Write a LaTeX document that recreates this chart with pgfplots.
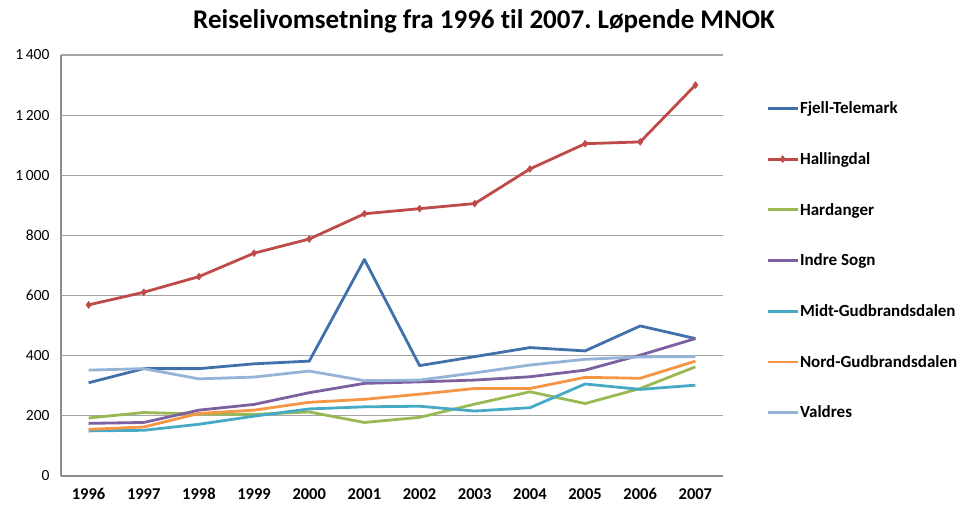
\documentclass[border=0pt]{standalone}
\usepackage{pgfplots}
\pgfplotsset{compat=1.18}
\usepackage{fontspec}
\setmainfont{Carlito}[Ligatures={NoCommon}]
\frenchspacing
\definecolor{cFT}{HTML}{4170AA}
\definecolor{cHA}{HTML}{BE4B48}
\definecolor{cHD}{HTML}{98B954}
\definecolor{cIS}{HTML}{7D60A0}
\definecolor{cMG}{HTML}{46AAC5}
\definecolor{cNG}{HTML}{F59647}
\definecolor{cVA}{HTML}{95B3D7}
\definecolor{gridc}{HTML}{A6A6A6}
\begin{document}
\begin{tikzpicture}[x=1pt,y=1pt]
\useasboundingbox (0,0) rectangle (957,510);
\node[font=\fontsize{27}{30}\selectfont\bfseries] at (484,489) {Reiselivomsetning fra 1996 til 2007. Løpende MNOK};
\begin{axis}[
  at={(61pt,34pt)}, anchor=south west,
  scale only axis, width=662pt, height=421pt,
  xmin=1995.5, xmax=2007.5, ymin=0, ymax=1400,
  xtick={1996,...,2007}, ytick={0,200,...,1400},
  axis x line*=bottom, axis y line*=left,
  axis line style={draw=gridc!85!black, line width=1.2pt, -},
  major tick length=0pt,
  ymajorgrids, grid style={draw=gridc, line width=1.1pt},
  /pgf/number format/assume math mode=true,
  /pgf/number format/1000 sep={\,},
  xticklabel style={font=\fontsize{16.5}{18}\selectfont\bfseries, /pgf/number format/1000 sep={}, yshift=-9pt},
  yticklabel style={font=\fontsize{15.5}{17}\selectfont, xshift=-8pt},
  every axis plot/.append style={line width=2.8pt, line join=round},
  legend style={at={(1.065,0.892)}, anchor=north west, draw=none, fill=none,
    font=\fontsize{17}{19}\selectfont\bfseries, row sep=35.3pt, inner sep=0pt,
    nodes={inner sep=1pt}},
  legend cell align=left,
  legend image code/.code={\draw[mark repeat=2,mark phase=2,#1] plot coordinates {(0pt,0pt) (15pt,0pt) (30pt,0pt)};},
]
\addplot[cFT, no markers] coordinates {(1996,310)(1997,357)(1998,357)(1999,373)(2000,382)(2001,720)(2002,367)(2003,397)(2004,427)(2005,416)(2006,499)(2007,457)};
\addlegendentry{Fjell-Telemark}
\addplot[cHA, mark=diamond*, mark size=3.5pt, mark options={fill=cHA, line width=0.5pt}] coordinates {(1996,569)(1997,611)(1998,663)(1999,741)(2000,788)(2001,872)(2002,889)(2003,906)(2004,1021)(2005,1105)(2006,1111)(2007,1300)};
\addlegendentry{Hallingdal}
\addplot[cHD, no markers] coordinates {(1996,193)(1997,211)(1998,206)(1999,205)(2000,213)(2001,178)(2002,195)(2003,239)(2004,280)(2005,241)(2006,291)(2007,363)};
\addlegendentry{Hardanger}
\addplot[cIS, no markers] coordinates {(1996,175)(1997,178)(1998,219)(1999,238)(2000,277)(2001,308)(2002,313)(2003,319)(2004,330)(2005,352)(2006,402)(2007,457)};
\addlegendentry{Indre Sogn}
\addplot[cMG, no markers] coordinates {(1996,150)(1997,152)(1998,172)(1999,199)(2000,223)(2001,230)(2002,232)(2003,216)(2004,227)(2005,306)(2006,288)(2007,302)};
\addlegendentry{Midt-Gudbrandsdalen}
\addplot[cNG, no markers] coordinates {(1996,155)(1997,163)(1998,208)(1999,219)(2000,245)(2001,255)(2002,272)(2003,291)(2004,291)(2005,328)(2006,325)(2007,382)};
\addlegendentry{Nord-Gudbrandsdalen}
\addplot[cVA, no markers] coordinates {(1996,352)(1997,357)(1998,323)(1999,329)(2000,349)(2001,317)(2002,319)(2003,343)(2004,369)(2005,388)(2006,396)(2007,397)};
\addlegendentry{Valdres}
\end{axis}
\end{tikzpicture}
\end{document}
